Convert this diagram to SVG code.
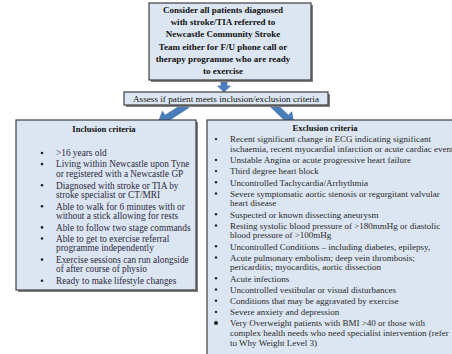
<svg xmlns="http://www.w3.org/2000/svg" width="452" height="354" viewBox="0 0 452 354">
  <defs>
    <style>
      .box { fill: #dce6f2; stroke: #3f3f3f; stroke-width: 1.2; }
      .shadow { fill: #808080; }
      .arrow { fill: #4a7ebb; stroke: #3a68a0; stroke-width: 0.6; }
      text { font-family: "Liberation Serif", "Times New Roman", serif; }
      .head { font-size: 9px; font-weight: bold; fill: #111; text-anchor: middle; }
      .assess { font-size: 9.2px; fill: #111; text-anchor: middle; }
      .inc { font-size: 9.3px; fill: #2e2a3f; }
      .exc { font-size: 9px; fill: #2a2a2a; }
      .title { font-size: 8.6px; font-weight: bold; fill: #111; text-anchor: middle; }
      .dot { fill: #222; }
    </style>
  </defs>

  <rect width="452" height="354" fill="#ffffff"/>

  <!-- connectors -->
  <g id="connectors">
    <!-- start box to assessment box -->
    <path class="arrow" transform="translate(224,80) rotate(90)" d="M0,-3 L6,-3 L6,-6.5 L12,0 L6,6.5 L6,3 L0,3 Z"/>
    <!-- assessment to inclusion criteria -->
    <path class="arrow" transform="translate(187,105) rotate(147.3)" d="M0,-3.2 L24,-3.2 L24,-8 L35,0 L24,8 L24,3.2 L0,3.2 Z"/>
    <!-- assessment to exclusion criteria -->
    <path class="arrow" transform="translate(271,103) rotate(43.7)" d="M0,-3.2 L21,-3.2 L21,-8 L32,0 L21,8 L21,3.2 L0,3.2 Z"/>
  </g>

  <!-- start node -->
  <g id="start">
    <rect class="shadow" x="151" y="5" width="162" height="77"/>
    <rect class="box" x="149" y="3" width="162" height="77"/>
    <text class="head" x="223" y="13.2">Consider all patients diagnosed</text>
    <text class="head" x="223" y="25.3">with stroke/TIA referred to</text>
    <text class="head" x="223" y="37.4">Newcastle Community Stroke</text>
    <text class="head" x="223" y="49.5">Team either for F/U phone call or</text>
    <text class="head" x="223" y="61.6">therapy programme who are ready</text>
    <text class="head" x="223" y="73.7">to exercise</text>
  </g>

  <!-- assessment node -->
  <g id="assess">
    <rect class="shadow" x="126" y="94" width="204" height="13"/>
    <rect class="box" x="124" y="92" width="204" height="13"/>
    <text class="assess" x="226" y="102">Assess if patient meets inclusion/exclusion criteria</text>
  </g>

  <!-- inclusion criteria node -->
  <g id="inclusion">
    <rect class="shadow" x="18" y="122" width="180" height="170"/>
    <rect class="box" x="16" y="120" width="180" height="170"/>
    <text class="title" x="104" y="132">Inclusion criteria</text>
    <g class="dot">
      <circle cx="42" cy="153" r="1.3"/>
      <circle cx="42" cy="164.1" r="1.3"/>
      <circle cx="42" cy="185.2" r="1.3"/>
      <circle cx="42" cy="206.3" r="1.3"/>
      <circle cx="42" cy="227.4" r="1.3"/>
      <circle cx="42" cy="238.5" r="1.3"/>
      <circle cx="42" cy="259.6" r="1.3"/>
      <circle cx="42" cy="280.7" r="1.3"/>
    </g>
    <text class="inc" x="56" y="156.3">&gt;16 years old</text>
    <text class="inc" x="56" y="167.4">Living within Newcastle upon Tyne</text>
    <text class="inc" x="56" y="176.8">or registered with a Newcastle GP</text>
    <text class="inc" x="56" y="188.5">Diagnosed with stroke or TIA by</text>
    <text class="inc" x="56" y="197.9">stroke specialist or CT/MRI</text>
    <text class="inc" x="56" y="209.6">Able to walk for 6 minutes with or</text>
    <text class="inc" x="56" y="219">without a stick allowing for rests</text>
    <text class="inc" x="56" y="230.7">Able to follow two stage commands</text>
    <text class="inc" x="56" y="241.8">Able to get to exercise referral</text>
    <text class="inc" x="56" y="251.2">programme independently</text>
    <text class="inc" x="56" y="262.9">Exercise sessions can run alongside</text>
    <text class="inc" x="56" y="272.3">of after course of physio</text>
    <text class="inc" x="56" y="284" fill="#000">Ready to make lifestyle changes</text>
  </g>

  <!-- exclusion criteria node -->
  <g id="exclusion">
    <rect class="box" x="207" y="120" width="260" height="250"/>
    <text class="title" x="325" y="131">Exclusion criteria</text>
    <g class="dot">
      <circle cx="216" cy="139.1" r="1.2"/>
      <circle cx="216" cy="159.9" r="1.2"/>
      <circle cx="216" cy="171.1" r="1.2"/>
      <circle cx="216" cy="182.3" r="1.2"/>
      <circle cx="216" cy="193.5" r="1.2"/>
      <circle cx="216" cy="214.3" r="1.2"/>
      <circle cx="216" cy="225.5" r="1.2"/>
      <circle cx="216" cy="246.3" r="1.2"/>
      <circle cx="216" cy="257.5" r="1.2"/>
      <circle cx="216" cy="278.3" r="1.2"/>
      <circle cx="216" cy="289.5" r="1.2"/>
      <circle cx="216" cy="300.7" r="1.2"/>
      <circle cx="216" cy="311.9" r="1.2"/>
      <circle cx="216" cy="323.1" r="2"/>
    </g>
    <text class="exc" x="230" y="142.3">Recent significant change in ECG indicating significant</text>
    <text class="exc" x="230" y="151.9">ischaemia, recent myocardial infarction or acute cardiac event</text>
    <text class="exc" x="230" y="163.1">Unstable Angina or acute progressive heart failure</text>
    <text class="exc" x="230" y="174.3">Third degree heart block</text>
    <text class="exc" x="230" y="185.5">Uncontrolled Tachycardia/Arrhythmia</text>
    <text class="exc" x="230" y="196.7">Severe symptomatic aortic stenosis or regurgitant valvular</text>
    <text class="exc" x="230" y="206.3">heart disease</text>
    <text class="exc" x="230" y="217.5">Suspected or known dissecting aneurysm</text>
    <text class="exc" x="230" y="228.7">Resting systolic blood pressure of &gt;180mmHg or diastolic</text>
    <text class="exc" x="230" y="238.3">blood pressure of &gt;100mHg</text>
    <text class="exc" x="230" y="249.5">Uncontrolled Conditions – including diabetes, epilepsy,</text>
    <text class="exc" x="230" y="260.7">Acute pulmonary embolism; deep vein thrombosis;</text>
    <text class="exc" x="230" y="270.3">pericarditis; myocarditis, aortic dissection</text>
    <text class="exc" x="230" y="281.5">Acute infections</text>
    <text class="exc" x="230" y="292.7">Uncontrolled vestibular or visual disturbances</text>
    <text class="exc" x="230" y="303.9">Conditions that may be aggravated by exercise</text>
    <text class="exc" x="230" y="315.1">Severe anxiety and depression</text>
    <text class="exc" x="230" y="326.3">Very Overweight patients with BMI &gt;40 or those with</text>
    <text class="exc" x="230" y="335.9">complex health needs who need specialist intervention (refer</text>
    <text class="exc" x="230" y="345.5">to Why Weight Level 3)</text>
  </g>
</svg>
